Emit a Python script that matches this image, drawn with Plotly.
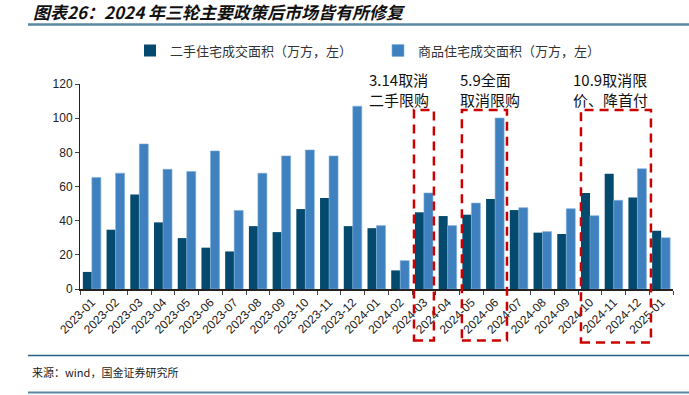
import plotly.graph_objects as go

categories = ["2023-01","2023-02","2023-03","2023-04","2023-05","2023-06","2023-07","2023-08",
              "2023-09","2023-10","2023-11","2023-12","2024-01","2024-02","2024-03","2024-04",
              "2024-05","2024-06","2024-07","2024-08","2024-09","2024-10","2024-11","2024-12","2025-01"]
second_hand = [10, 34.7, 55.3, 39, 29.8, 24.2, 22, 36.8, 33.3, 46.8, 53.2, 36.8, 35.6, 10.9,
               44.9, 42.7, 43.5, 52.7, 46.2, 33, 32.2, 56.2, 67.5, 53.5, 34.1]
new_home = [65.3, 67.8, 84.9, 70.1, 68.8, 80.8, 46, 67.8, 77.9, 81.4, 77.9, 107, 37.1, 16.6,
            56.2, 37.1, 50.3, 100.1, 47.6, 33.6, 47, 42.9, 51.9, 70.4, 30]
y_ticks = [0, 20, 40, 60, 80, 100, 120]
series_names = ["二手住宅成交面积（万方，左）", "商品住宅成交面积（万方，左）"]
title_text = "图表26：2024 年三轮主要政策后市场皆有所修复"
source_text = "来源：wind，国金证券研究所"
notes = [("3.14取消<br>二手限购", 11.58), ("5.9全面<br>取消限购", 15.45), ("10.9取消限<br>价、降首付", 20.2)]
boxes = [(13.58, 14.42, 341), (15.6, 17.5, 341), (20.62, 23.57, 343)]

W, H = 689, 395
L, R, T = 80, 16, 84
B = H - 289.3
PW, PH = W - L - R, H - T - B

def px(x):
    return (x - L) / PW

def py(y):
    return (H - B - y) / PH

CJK = "Noto Sans CJK SC, Liberation Sans, sans-serif"
NUM = "Liberation Sans, Arial, sans-serif"

fig = go.Figure()
fig.add_trace(go.Bar(x=categories, y=second_hand, name=series_names[0],
                     marker=dict(color="#044a6e", line=dict(width=0))))
fig.add_trace(go.Bar(x=categories, y=new_home, name=series_names[1],
                     marker=dict(color="#3f80bf", line=dict(color="#7fb0dc", width=0.6))))

shapes = []
for x0, x1, yb in boxes:
    shapes.append(dict(type="rect", xref="x", yref="paper", x0=x0, x1=x1, y0=py(yb), y1=py(110),
                       line=dict(color="#cc0000", width=2.5, dash="9px,6px"), fillcolor="rgba(0,0,0,0)",
                       layer="above"))
shapes.append(dict(type="line", xref="paper", yref="paper", x0=px(28), x1=px(689), y0=py(24.5), y1=py(24.5),
                   line=dict(color="#5a87a3", width=2.5)))
shapes.append(dict(type="line", xref="paper", yref="paper", x0=px(28), x1=px(689), y0=py(356), y1=py(356),
                   line=dict(color="#2a5f86", width=1.5)))
shapes.append(dict(type="line", xref="paper", yref="paper", x0=px(28), x1=px(689), y0=py(393), y1=py(393),
                   line=dict(color="#5a87a3", width=2)))

annotations = [
    dict(text="<b><i>" + title_text + "</i></b>", xref="paper", yref="paper", x=px(31), y=py(11.5),
         xanchor="left", yanchor="middle", showarrow=False, font=dict(family=CJK, size=17, color="#111")),
    dict(text=source_text, xref="paper", yref="paper", x=px(30), y=py(372),
         xanchor="left", yanchor="middle", showarrow=False, font=dict(family=CJK, size=11, color="#222")),
]
for txt, xpos in notes:
    annotations.append(dict(text=txt, xref="x", yref="paper", x=xpos, y=py(90), xanchor="left",
                            yanchor="middle", align="left", showarrow=False,
                            font=dict(family=CJK, size=15, color="#111")))

fig.update_layout(
    width=W, height=H,
    margin=dict(l=L, r=R, t=T, b=B, autoexpand=False),
    paper_bgcolor="white", plot_bgcolor="white",
    barmode="group", bargap=0.24, bargroupgap=0,
    showlegend=True,
    legend=dict(orientation="h", x=px(130), y=py(50.5), xanchor="left", yanchor="middle",
                font=dict(family=CJK, size=13, color="#333"), itemwidth=30,
                entrywidth=203, bgcolor="rgba(0,0,0,0)"),
    shapes=shapes, annotations=annotations,
    xaxis=dict(type="category", tickangle=-45, showline=True, linecolor="#222", linewidth=1.5,
               ticks="outside", ticklen=4, tickcolor="#444", tickson="boundaries",
               tickfont=dict(family=NUM, size=12, color="#222"), showgrid=False,
               range=[-0.5, len(categories) - 0.5]),
    yaxis=dict(range=[0, 120], tickvals=y_ticks, showline=True, linecolor="#222", linewidth=1,
               ticks="outside", ticklen=4, tickcolor="#444", showgrid=False, zeroline=False,
               tickfont=dict(family=NUM, size=12, color="#222")),
)

fig.write_html("out.html", config={"displayModeBar": False},
               post_script="document.body.style.margin='0';document.body.style.overflow='hidden';")
